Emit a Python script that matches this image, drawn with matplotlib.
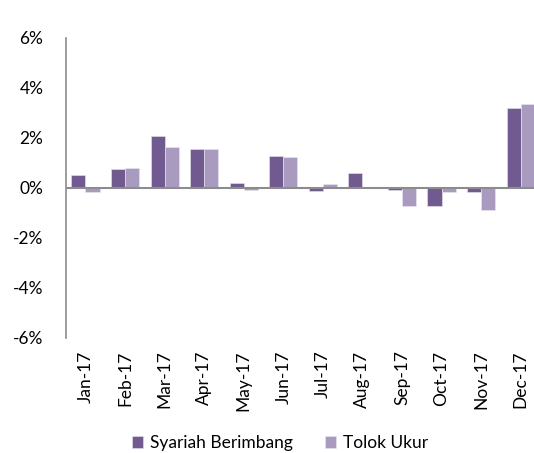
import numpy as np
import matplotlib.pyplot as plt
from matplotlib.ticker import FuncFormatter

months = ['Jan-17', 'Feb-17', 'Mar-17', 'Apr-17', 'May-17', 'Jun-17',
          'Jul-17', 'Aug-17', 'Sep-17', 'Oct-17', 'Nov-17', 'Dec-17']
syariah = [0.50, 0.73, 2.08, 1.55, 0.21, 1.27, -0.13, 0.61, -0.09, -0.71, -0.15, 3.17]
tolok = [-0.15, 0.80, 1.63, 1.55, -0.09, 1.21, 0.16, 0.03, -0.72, -0.15, -0.87, 3.33]
series_names = ['Syariah Berimbang', 'Tolok Ukur']

plt.rcParams['font.family'] = ['Lato', 'DejaVu Sans']

fig = plt.figure(figsize=(5.34, 4.53), dpi=100)
# axes runs a little past the right edge, like the cropped original
ax = fig.add_axes([0.123, 0.254, 0.889, 0.663])

x = np.arange(len(months))
w = 0.355
ax.bar(x - w / 2, syariah, w, color='#715a8f', edgecolor='#e9e4ef', linewidth=0.4,
       label=series_names[0], zorder=2)
ax.bar(x + w / 2, tolok, w, color='#a99bbf', edgecolor='#ece8f2', linewidth=0.4,
       label=series_names[1], zorder=2)

ax.axhline(0, color='#8c8c8c', linewidth=1.5, zorder=3)
ax.set_xlim(-0.5, len(months) - 0.5)
ax.set_ylim(-6, 6)
ax.set_yticks(range(-6, 7, 2))
ax.yaxis.set_major_formatter(FuncFormatter(lambda v, p: f'{v:.0f}%'))
ax.set_xticks(x)
ax.set_xticklabels(months, rotation=90)
ax.tick_params(axis='both', length=0, labelsize=12.5, colors='#000000')
ax.tick_params(axis='y', pad=16)
ax.tick_params(axis='x', pad=9)

for s in ['top', 'right', 'bottom']:
    ax.spines[s].set_visible(False)
ax.spines['left'].set_color('#8c8c8c')
ax.spines['left'].set_linewidth(1.2)

ax.legend(loc='center', bbox_to_anchor=(280 / 534, 10 / 453), bbox_transform=fig.transFigure,
          ncol=2, frameon=False, fontsize=12.5, handlelength=0.65, handleheight=0.65,
          handletextpad=0.4, columnspacing=1.8)

plt.savefig('out.png', dpi=100)
